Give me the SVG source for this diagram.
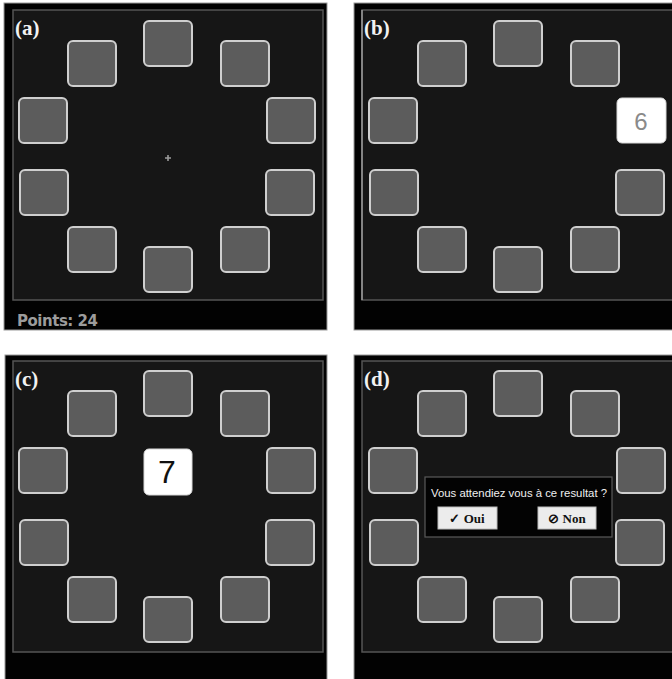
<svg xmlns="http://www.w3.org/2000/svg" width="672" height="679" viewBox="0 0 672 679">
<style>
.outer{fill:#020202;stroke:#9a9a9a;stroke-width:1}
.inner{fill:#161616;stroke:#555;stroke-width:1.5}
.tile{fill:#5c5c5c;stroke:#cfcfcf;stroke-width:2}
.lit{fill:#ffffff;stroke:#d8d8d8;stroke-width:1}
.lbl{font-family:"Liberation Serif",serif;font-weight:bold;font-size:21px;fill:#f2f2f2}
.btn{fill:#ececec;stroke:#bbb;stroke-width:1}
.btxt{font-family:"Liberation Serif",serif;font-weight:bold;font-size:13px;fill:#111;text-anchor:middle}
</style>
<defs>
<g id="ring">
<rect class="tile" x="144" y="21" width="48" height="45" rx="5"/>
<rect class="tile" x="68" y="41" width="48" height="45" rx="5"/>
<rect class="tile" x="221" y="41" width="48" height="45" rx="5"/>
<rect class="tile" x="19" y="98" width="48" height="45" rx="5"/>
<rect class="tile" x="20" y="170" width="48" height="45" rx="5"/>
<rect class="tile" x="266" y="170" width="48" height="45" rx="5"/>
<rect class="tile" x="68" y="227" width="48" height="45" rx="5"/>
<rect class="tile" x="221" y="227" width="48" height="45" rx="5"/>
<rect class="tile" x="144" y="247" width="48" height="45" rx="5"/>
</g>
</defs>
<rect width="672" height="679" fill="#fff"/>

<g id="panel-a">
<rect class="outer" x="4" y="3" width="323" height="327"/>
<rect class="inner" x="13" y="10" width="310" height="290"/>
<use href="#ring"/>
<rect class="tile" x="267" y="98" width="48" height="45" rx="5"/>
<path d="M165 158h6M168 155v6" stroke="#9a9a9a" stroke-width="1.6"/>
<text class="lbl" x="15" y="35">(a)</text>
<text x="17" y="326" font-family="DejaVu Sans,sans-serif" font-weight="bold" font-size="15" fill="#9c9c9c" textLength="81">Points: 24</text>
</g>

<g id="panel-b">
<rect class="outer" x="354" y="3" width="320" height="327"/>
<rect class="inner" x="362" y="10" width="312" height="290"/>
<line x1="362" y1="10" x2="362" y2="300" stroke="#9a9a9a" stroke-width="1.5"/>
<use href="#ring" x="350"/>
<g id="tile-6">
<rect class="lit" x="617" y="98" width="49" height="45" rx="5"/>
<text x="641" y="130" font-family="Liberation Sans,sans-serif" font-size="24" fill="#8a8a8a" text-anchor="middle">6</text>
</g>
<text class="lbl" x="364" y="35">(b)</text>
</g>

<g id="panel-c">
<rect class="outer" x="5" y="355" width="322" height="326"/>
<rect class="inner" x="13" y="361" width="310" height="291"/>
<use href="#ring" y="350"/>
<rect class="tile" x="267" y="448" width="48" height="45" rx="5"/>
<g id="tile-7">
<rect class="lit" x="144" y="449" width="48" height="46" rx="5"/>
<text x="167" y="483" font-family="Liberation Sans,sans-serif" font-size="32" fill="#111" text-anchor="middle">7</text>
</g>
<text class="lbl" x="15" y="386">(c)</text>
</g>

<g id="panel-d">
<rect class="outer" x="354" y="355" width="320" height="326"/>
<rect class="inner" x="362" y="361" width="312" height="291"/>
<use href="#ring" x="350" y="350"/>
<rect class="tile" x="617" y="448" width="48" height="45" rx="5"/>
<text class="lbl" x="364" y="386">(d)</text>
<g id="dialog">
<rect x="425" y="477" width="187" height="60" fill="#030303" stroke="#5a5a5a" stroke-width="1.2"/>
<text x="431" y="497" font-family="Liberation Sans,sans-serif" font-size="11" fill="#f0f0f0" textLength="176" lengthAdjust="spacingAndGlyphs">Vous attendiez vous à ce resultat ?</text>
<g id="btn-oui">
<rect class="btn" x="438" y="507" width="59" height="22"/>
<text class="btxt" x="467" y="523">✓ Oui</text>
</g>
<g id="btn-non">
<rect class="btn" x="538" y="507" width="58" height="22"/>
<text class="btxt" x="567" y="523">⊘ Non</text>
</g>
</g>
</g>
</svg>
